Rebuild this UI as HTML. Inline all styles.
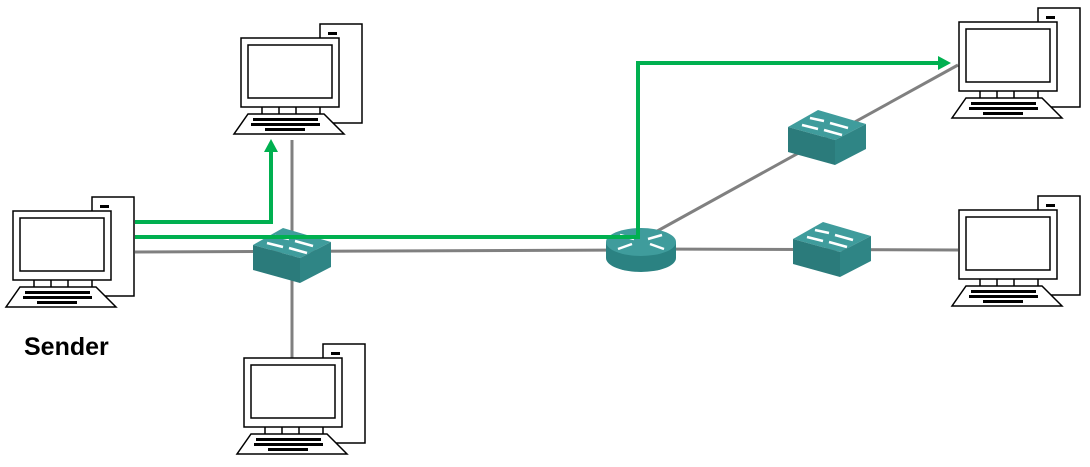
<!DOCTYPE html>
<html><head><style>body{margin:0;background:#fff}svg{display:block}</style></head>
<body>
<svg width="1090" height="467" viewBox="0 0 1090 467" xmlns="http://www.w3.org/2000/svg">
<defs>
<g id="pc" stroke="#000" stroke-width="1.5" fill="#fff">
  <rect x="79" y="-14" width="42" height="99"/>
  <rect x="87" y="-6" width="9" height="3" fill="#000" stroke="none"/>
  <rect x="87" y="0" width="9" height="3" fill="#000" stroke="none"/>
  <rect x="0" y="0" width="98" height="69"/>
  <rect x="7" y="7" width="84" height="53"/>
  <line x1="21" y1="69" x2="21" y2="76"/><line x1="38" y1="69" x2="38" y2="76"/><line x1="55" y1="69" x2="55" y2="76"/>
  <polygon points="7,76 83,76 103,96 -7,96"/>
  <g stroke="none" fill="#000">
    <rect x="12" y="80" width="65" height="3"/>
    <rect x="10" y="85" width="69" height="3"/>
    <rect x="24" y="90" width="40" height="3"/>
  </g>
</g>
<g id="sw">
  <polygon points="0,17 30,0 78,14 47,30" fill="#3f9c9c"/>
  <polygon points="0,17 47,30 47,55 0,42" fill="#2b7b7b"/>
  <polygon points="47,30 78,14 78,39 47,55" fill="#2f8585"/>
  <g stroke="#fff" stroke-width="2.5">
    <line x1="22" y1="8" x2="36" y2="11"/><line x1="42" y1="13" x2="60" y2="18"/>
    <line x1="14" y1="15" x2="30" y2="19"/><line x1="36" y1="20" x2="54" y2="25"/>
  </g>
</g>
</defs>
<g stroke="#808080" stroke-width="3" fill="none">
  <line x1="135" y1="252" x2="640" y2="250"/>
  <line x1="292" y1="140" x2="292" y2="358"/>
  <line x1="641" y1="249" x2="958" y2="250"/>
  <line x1="641" y1="240" x2="958" y2="65"/>
</g>
<use href="#sw" x="253" y="228"/>
<use href="#sw" x="788" y="110"/>
<use href="#sw" x="793" y="222"/>
<g>
  <path d="M606,242 L606,258 A35,14 0 0 0 676,258 L676,242 Z" fill="#2b8282"/>
  <ellipse cx="641" cy="242" rx="35" ry="14" fill="#3f9c9c"/>
  <g stroke="#fff" stroke-width="2.5">
    <line x1="620" y1="235" x2="634" y2="239"/><line x1="648" y1="239" x2="662" y2="235"/>
    <line x1="618" y1="249" x2="632" y2="244"/><line x1="650" y1="244" x2="664" y2="249"/>
  </g>
</g>
<use href="#pc" x="13" y="211"/>
<use href="#pc" x="241" y="38"/>
<use href="#pc" x="244" y="358"/>
<use href="#pc" x="959" y="22"/>
<use href="#pc" x="959" y="210"/>
<g stroke="#00b050" stroke-width="4" fill="none">
  <polyline points="135,222 271,222 271,150"/>
  <polyline points="135,237 638,237 638,63 940,63"/>
</g>
<polygon points="264,152 278,152 271,139" fill="#00b050"/>
<polygon points="938,56 938,70 951,63" fill="#00b050"/>
<text x="24" y="355" font-family="Liberation Sans, sans-serif" font-weight="bold" font-size="25" fill="#000">Sender</text>
</svg>
</body></html>
